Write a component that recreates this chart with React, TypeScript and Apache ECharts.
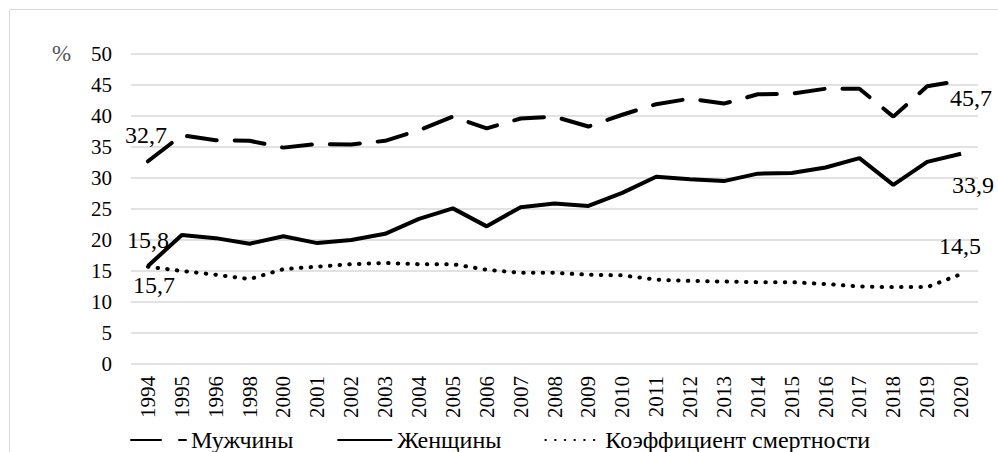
import React, { useEffect, useRef } from "react";
import * as echarts from "echarts";

const years = ["1994","1995","1996","1998","2000","2001","2002","2003","2004","2005","2006","2007","2008","2009","2010","2011","2012","2013","2014","2015","2016","2017","2018","2019","2020"];
const men = [32.7,36.9,36.1,36.0,34.9,35.5,35.4,36.0,37.7,39.9,38.0,39.6,39.9,38.3,40.2,41.9,42.8,42.0,43.5,43.6,44.4,44.4,39.9,44.8,45.7];
const women = [15.8,20.8,20.3,19.4,20.6,19.5,20.0,21.0,23.4,25.1,22.2,25.3,25.9,25.5,27.6,30.2,29.8,29.5,30.7,30.8,31.7,33.2,28.9,32.6,33.9];
const mortality = [15.7,15.0,14.4,13.7,15.3,15.7,16.1,16.3,16.1,16.1,15.2,14.7,14.7,14.4,14.3,13.6,13.4,13.3,13.2,13.2,12.9,12.5,12.4,12.4,14.5];
const seriesNames = ["Мужчины", "Женщины", "Коэффициент смертности"];
const yTicks = { min: 0, max: 50, interval: 5 };

const FONT = "Liberation Serif";

function withLabels(values: number[], first: number[], last: number[]) {
  return values.map((v, i) => {
    if (i === 0 || i === values.length - 1) {
      const off = i === 0 ? first : last;
      return {
        value: v,
        label: {
          show: true,
          position: "inside",
          offset: off,
          formatter: (p: any) => String(p.value.toFixed(1)).replace(".", ","),
          color: "#000",
          fontSize: 24,
          fontFamily: FONT,
        },
      };
    }
    return v;
  });
}

export default function App() {
  const ref = useRef<HTMLDivElement>(null);
  useEffect(() => {
    if (!ref.current) return;
    const chart = echarts.init(ref.current, null, { renderer: "svg" });
    const common = {
      type: "line",
      symbol: "circle",
      symbolSize: 2,
      showSymbol: true,
      itemStyle: { color: "rgba(0,0,0,0)" },
      emphasis: { disabled: true },
    };
    chart.setOption({
      animation: false,
      backgroundColor: "#fff",
      textStyle: { fontFamily: FONT },
      grid: { left: 131, right: 20, top: 54, bottom: 88, containLabel: false },
      graphic: [
        {
          type: "rect",
          shape: { x: 9.5, y: 9.5, width: 1200, height: 600 },
          style: { fill: "none", stroke: "#d9d9d9", lineWidth: 1 },
          silent: true,
        },
        {
          type: "text",
          left: 52,
          top: 42,
          style: { text: "%", fontSize: 23, fontFamily: FONT, fill: "#595959" },
        },
      ],
      legend: {
        left: 130,
        top: 428,
        padding: 0,
        itemWidth: 55,
        itemHeight: 14,
        itemGap: 43,
        data: seriesNames,
        textStyle: { fontSize: 24, fontFamily: FONT, color: "#000" },
      },
      xAxis: {
        type: "category",
        data: years,
        boundaryGap: true,
        axisLine: { show: false },
        axisTick: { show: false },
        axisLabel: { rotate: 90, fontSize: 21, fontFamily: FONT, color: "#000", margin: 12, interval: 0 },
      },
      yAxis: {
        type: "value",
        min: yTicks.min,
        max: yTicks.max,
        interval: yTicks.interval,
        axisLine: { show: false },
        axisTick: { show: false },
        axisLabel: { fontSize: 21, fontFamily: FONT, color: "#000", margin: 19 },
        splitLine: { lineStyle: { color: "#d9d9d9", width: 1.5 } },
      },
      series: [
        {
          ...common,
          name: seriesNames[0],
          data: withLabels(men, [-2, -26], [10, 17]),
          lineStyle: { color: "#000", width: 4, type: [30, 18], cap: "round" },
        },
        {
          ...common,
          name: seriesNames[1],
          data: withLabels(women, [0, -26], [12, 31]),
          lineStyle: { color: "#000", width: 4, type: "solid" },
        },
        {
          ...common,
          name: seriesNames[2],
          data: withLabels(mortality, [6, 18], [-1, -28]),
          lineStyle: { color: "#000", width: 4, type: [0.5, 9.2], cap: "round" },
        },
      ],
    });
    return () => chart.dispose();
  }, []);
  return (
    <div
      ref={ref}
      style={{ position: "fixed", left: 0, top: 0, width: 998, height: 452 }}
    />
  );
}
